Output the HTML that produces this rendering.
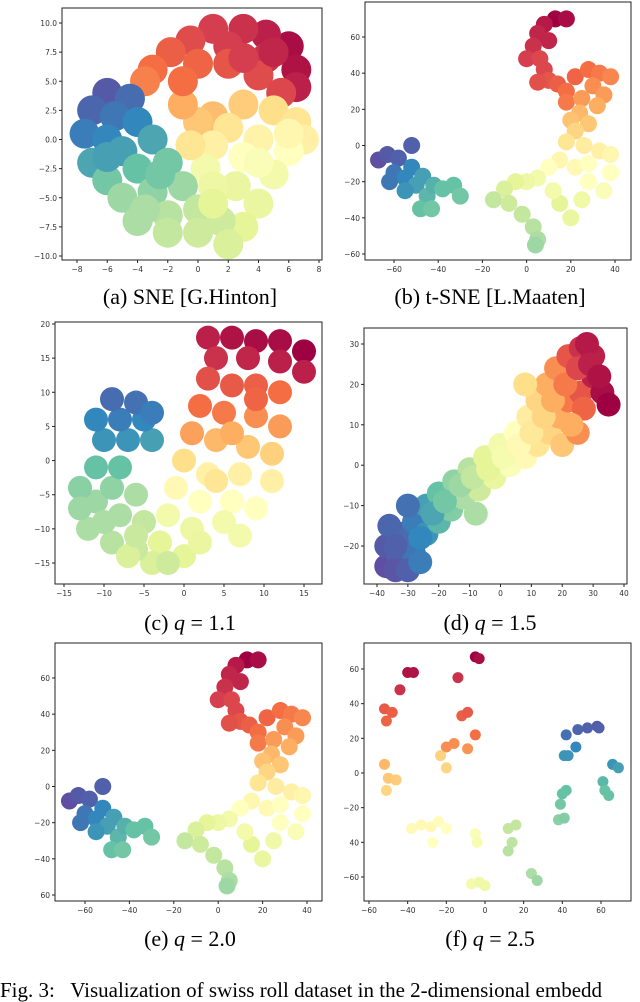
<!DOCTYPE html>
<html><head><meta charset="utf-8">
<style>
body{margin:0;background:#fff;width:640px;height:988px;overflow:hidden;position:relative;font-family:"Liberation Serif",serif}
svg{position:absolute;left:0;top:0}
.cap{position:absolute;font-family:"Liberation Serif",serif;font-size:22px;color:#000;text-align:center;width:320px;white-space:nowrap}
.cap i{font-style:italic}
</style></head>
<body>
<svg id="fig" width="640" height="988"></svg>
<div class="cap" style="left:30px;top:284px">(a) SNE [G.Hinton]</div>
<div class="cap" style="left:330px;top:284px">(b) t-SNE [L.Maaten]</div>
<div class="cap" style="left:30px;top:610px">(c) <i>q</i> = 1.1</div>
<div class="cap" style="left:330px;top:610px">(d) <i>q</i> = 1.5</div>
<div class="cap" style="left:30px;top:926px">(e) <i>q</i> = 2.0</div>
<div class="cap" style="left:330px;top:926px">(f) <i>q</i> = 2.5</div>
<div style="position:absolute;left:0;top:978px;font-size:21px;line-height:24px;white-space:nowrap">Fig. 3:&nbsp;&nbsp; Visualization of swiss roll dataset in the 2-dimensional embedd</div>
<script>
// Panel (a)
const aX=[6,6.5,6.5,4.5,3,1,-0.5,2,4.5,-1.8,-3,-3.5,0,2,4,5.5,1,3,5,6.5,7,0,2,4,6,1,3,5,0.5,2.5,4,3,-0.5,-6,-4.5,-7,-5.5,-4,-7.5,-6,-3,-5,-7,-4,-2,-6,-3,-1,-5,-2,0,1.5,0,2,-3.5,-1,1,4,5,3,-1,6,-2,-4,1,-6,-2.5];
const aY=[8,6,4.5,9,9.5,9.5,8.5,8,7,7.5,6,5,6.5,6.5,5.5,4,2,3,2.5,1.5,0,1.5,1,0,-1,-0.5,-1.5,-3,-2.5,-4,-5.5,-7.5,-0.5,4,3.5,2.5,2,1.5,0.5,0,0,-1,-2,-2.5,-2,-3.5,-4.5,-4,-5,-6.5,-6,-7,-8,-9,-6,3,-4,-2,7.5,7,5,0.5,-8,-7,-5.5,-1.5,-3];
const aT=[0.02,0.03,0.05,0.05,0.08,0.1,0.13,0.1,0.08,0.17,0.2,0.23,0.18,0.15,0.13,0.12,0.33,0.36,0.4,0.42,0.45,0.35,0.42,0.46,0.5,0.45,0.5,0.55,0.55,0.58,0.58,0.6,0.42,0.98,0.95,0.96,0.93,0.9,0.92,0.9,0.85,0.86,0.85,0.8,0.78,0.78,0.74,0.72,0.72,0.68,0.66,0.64,0.64,0.62,0.7,0.3,0.57,0.52,0.06,0.1,0.2,0.47,0.66,0.7,0.6,0.86,0.78];
const aXT=[-8,-6,-4,-2,0,2,4,6,8], aXL=["−8","−6","−4","−2","0","2","4","6","8"];
const aYT=[10,7.5,5,2.5,0,-2.5,-5,-7.5,-10], aYL=["10.0","7.5","5.0","2.5","0.0","−2.5","−5.0","−7.5","−10.0"];
// Panel (b)
const bX=[-67,-63,-58,-52,-60,-55,-52,-50,-47,-45,-42,-48,-43,-38,-33,-30,-55,-62,13,18,8,5,10,3,0,6,8,10,5,14,18,18,22,28,33,38,30,35,25,32,24,20,28,22,18,26,33,38,38,35,28,22,15,10,5,0,-5,-10,-15,-8,-2,3,5,4,15,25,20,12,28];
const bY=[-8,-5,-7,0,-15,-18,-12,-22,-17,-28,-22,-35,-35,-24,-22,-28,-25,-20,70,70,67,62,58,55,48,48,42,36,35,34,30,24,38,42,40,38,33,28,26,22,18,14,12,8,2,0,-3,-5,-15,-25,-20,-12,-8,-12,-18,-20,-20,-24,-30,-32,-38,-45,-52,-55,-32,-30,-40,-25,-10];
const bT=[1,0.98,0.97,0.97,0.93,0.9,0.9,0.86,0.86,0.82,0.83,0.8,0.78,0.8,0.8,0.78,0.88,0.93,0.0,0.02,0.04,0.06,0.06,0.08,0.1,0.12,0.12,0.15,0.14,0.17,0.2,0.22,0.18,0.2,0.22,0.24,0.25,0.27,0.27,0.3,0.32,0.34,0.35,0.38,0.42,0.44,0.45,0.47,0.5,0.52,0.5,0.48,0.47,0.5,0.55,0.57,0.6,0.62,0.66,0.64,0.66,0.68,0.7,0.72,0.6,0.56,0.58,0.55,0.5];
const bXT=[-60,-40,-20,0,20,40], bXL=["−60","−40","−20","0","20","40"];
const bYT=[60,40,20,0,-20,-40,-60], bYL=["60","40","20","0","−20","−40","−60"];
// Panel (c)
const cX=[3,6,9,12,15,4,8,12,15,3,6,9,12,2,5,9,12,1,4,8,11,0,3,7,11,-1,2,6,9,-2,1,5,7,-3,0,-4,-6,-9,-12,-5,-8,-11,-13,-9,-6,-11,-8,-13,-10,-7,-4,-11,-8,-5,-9,-6,-4,-7,-2,6,9,2,4,-6,-10];
const cY=[18,18,17.5,17.5,16,15,15,14.5,13,12,11,11,10,8,7,6.5,5,4,3,2,1,0,-2,-2,-3,-4,-6,-6,-7,-8,-10,-9,-11,-12,-14,-15,-13,-12,-10,-9,-8,-6,-4,-4,-5,-1,-1,-7,3,3,3,6,6,6,9,8.5,7,-14,-15,4,9,-12,-3,-11,-9];
const cT=[0.05,0.03,0.02,0.02,0.0,0.08,0.06,0.05,0.05,0.14,0.16,0.17,0.2,0.2,0.22,0.25,0.27,0.28,0.32,0.35,0.37,0.4,0.45,0.45,0.45,0.48,0.5,0.5,0.5,0.55,0.57,0.55,0.55,0.6,0.6,0.62,0.65,0.68,0.7,0.66,0.7,0.72,0.75,0.74,0.7,0.8,0.8,0.72,0.88,0.88,0.86,0.9,0.92,0.9,0.95,0.94,0.92,0.62,0.64,0.3,0.18,0.58,0.42,0.65,0.7];
const cXT=[-15,-10,-5,0,5,10,15], cXL=["−15","−10","−5","0","5","10","15"];
const cYT=[20,15,10,5,0,-5,-10,-15], cYL=["20","15","10","5","0","−5","−10","−15"];
// Panel (d)
const dX=[-37,-37,-33,-32,-28,-28,-24,-24,-20,-20,-16,-15,-12,-10,-7,-5,-2,0,3,5,8,9,12,12,16,15,19,18,22,22,26,26,30,33,30,35,20,-30,-36,8,-8,25,28,-34,-34,-26,-22,-18,-13,-9,-4,1,6,10,14,17,21,25,29,32,27,23,-30,-26];
const dY=[-25,-20,-23,-17,-22,-14,-17,-10,-14,-7,-11,-4,-8,-1,-6,2,-3,5,0,8,2,12,5,16,8,20,12,24,16,27,18,29,22,18,27,15,5,-10,-15,20,-12,8,30,-26,-20,-18,-12,-9,-5,-3,-1,2,5,8,12,16,20,24,25,22,14,10,-26,-24];
const dT=[1,0.98,0.97,0.95,0.93,0.92,0.88,0.86,0.82,0.8,0.76,0.74,0.7,0.68,0.64,0.6,0.58,0.55,0.52,0.5,0.48,0.44,0.42,0.38,0.38,0.3,0.3,0.25,0.22,0.15,0.15,0.08,0.05,0.02,0.05,0.0,0.35,0.94,0.96,0.4,0.7,0.25,0.04,0.99,0.97,0.9,0.85,0.78,0.72,0.66,0.6,0.54,0.48,0.43,0.38,0.3,0.22,0.12,0.05,0.03,0.18,0.3,0.97,0.92];
const dXT=[-40,-30,-20,-10,0,10,20,30,40], dXL=["−40","−30","−20","−10","0","10","20","30","40"];
const dYT=[30,20,10,0,-10,-20], dYL=["30","20","10","0","−10","−20"];
// Panel (e)
const eYL=["60","40","20","0","−20","−40","60"];
// Panel (f)
const fX=[-40,-37,-44,-5,-3,-14,-52,-51,-48,-12,-9,-5,-20,-16,-9,-52,-50,-51,-46,-23,-20,-38,-33,-28,-24,-20,-27,-5,-4,-7,-3,0,12,16,14,12,24,27,38,41,39,40,42,41,43,47,42,48,53,58,59,61,62,64,66,69];
const fY=[58,58,48,67,66,55,37,30,35,33,35,22,15,17,14,5,-3,-10,-4,10,3,-32,-30,-31,-28,-32,-40,-35,-40,-64,-63,-65,-32,-30,-40,-45,-58,-62,-27,-26,-18,-12,-10,10,10,15,22,25,26,27,26,-5,-10,-13,5,3];
const fT=[0.03,0.03,0.08,0.0,0.02,0.08,0.16,0.18,0.17,0.17,0.16,0.2,0.25,0.25,0.26,0.32,0.35,0.38,0.36,0.37,0.38,0.48,0.48,0.48,0.49,0.5,0.5,0.52,0.53,0.55,0.56,0.56,0.66,0.66,0.67,0.68,0.7,0.72,0.75,0.76,0.78,0.8,0.8,0.88,0.88,0.9,0.94,0.96,0.97,0.98,0.97,0.82,0.8,0.8,0.88,0.86];
const fXT=[-60,-40,-20,0,20,40,60], fXL=["−60","−40","−20","0","20","40","60"];
const fYT=[60,40,20,0,-20,-40,-60], fYL=["60","40","20","0","−20","40","−60"];

const NS="http://www.w3.org/2000/svg";
const svg=document.getElementById('fig');
const stops=[[158,1,66],[213,62,79],[244,109,67],[253,174,97],[254,224,139],[255,255,191],[230,245,152],[171,221,164],[102,194,165],[50,136,189],[94,79,162]];
function spectral(t){t=Math.max(0,Math.min(1,t))*10;const i=Math.min(9,Math.floor(t)),f=t-i,a=stops[i],b=stops[i+1];
return `rgb(${a.map((v,k)=>Math.round(v+(b[k]-v)*f)).join(',')})`;}
function mk(tag,attrs,parent){const e=document.createElementNS(NS,tag);for(const k in attrs)e.setAttribute(k,attrs[k]);(parent||svg).appendChild(e);return e;}
function panel(name,box,xr,yr,xs,ys,ts,xt,xl,yt,yl,rad){
  const [L,T,R,B]=box;
  const sx=v=>xr[2]+(v-xr[0])*(xr[3]-xr[2])/(xr[1]-xr[0]);
  const sy=v=>yr[2]+(v-yr[0])*(yr[3]-yr[2])/(yr[1]-yr[0]);
  const g=mk('g',{});
  
  
  for(let i=0;i<xs.length;i++){
    const c=mk('circle',{cx:sx(xs[i]),cy:sy(ys[i]),r:rad,fill:spectral(ts[i])},g);
    
    
  }
  const fr=mk('rect',{x:L,y:T,width:R-L,height:B-T,fill:'none',stroke:'#222','stroke-width':1},g);
  
  
  xt.forEach((v,i)=>{const x=sx(v);mk('line',{x1:x,x2:x,y1:B,y2:B+3,stroke:'#222'},g);
    const t=mk('text',{x:x,y:B+12,'font-size':7.5,'text-anchor':'middle','font-family':'DejaVu Sans, sans-serif',fill:'#333'},g);t.textContent=xl[i];
    
    });
  yt.forEach((v,i)=>{const y=sy(v);mk('line',{x1:L-3,x2:L,y1:y,y2:y,stroke:'#222'},g);
    const t=mk('text',{x:L-5,y:y+3,'font-size':7.5,'text-anchor':'end','font-family':'DejaVu Sans, sans-serif',fill:'#333'},g);t.textContent=yl[i];
    
    });
}
panel('panel-a-sne',[62,8,322,260],[-8,8,77,319],[10,-10,23,256],aX,aY,aT,aXT,aXL,aYT,aYL,15);
panel('panel-b-tsne',[365,2,631,260],[-60,40,394,615],[60,-60,37,254],bX,bY,bT,bXT,bXL,bYT,bYL,8.5);
panel('panel-c-q11',[55,322,322,584],[-10,15,104,304],[20,-15,324,563],cX,cY,cT,cXT,cXL,cYT,cYL,12);
panel('panel-d-q15',[364,328,627,584],[-40,40,377,624],[30,-20,344,546],dX,dY,dT,dXT,dXL,dYT,dYL,12);
panel('panel-e-q20',[55,643,322,901],[-60,40,85,307],[60,-60,678,895],bX,bY,bT,bXT,bXL,bYT,eYL,8.5);
panel('panel-f-q25',[364,643,631,901],[-60,60,369,601],[60,-60,669,877],fX,fY,fT,fXT,fXL,fYT,fYL,5.5);
</script>
</body></html>
